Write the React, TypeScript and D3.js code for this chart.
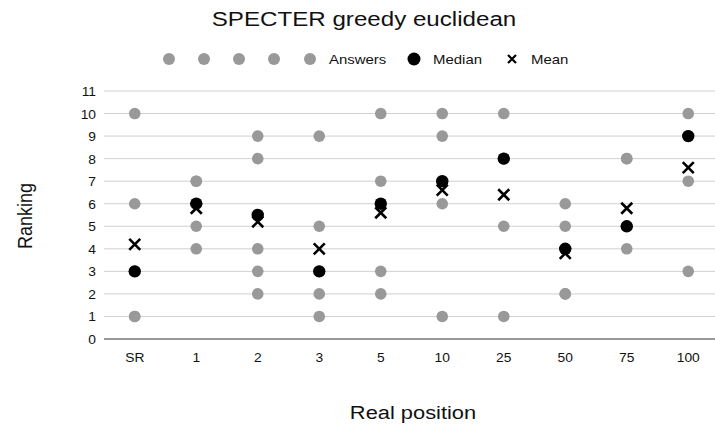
import React from "react";
import * as d3 from "d3";

const categories = ["SR", "1", "2", "3", "5", "10", "25", "50", "75", "100"];
const answers1 = [1, 4, 2, 1, 2, 1, 1, 2, 4, 3];
const answers2 = [1, 5, 3, 2, 3, 6, 5, 2, 5, 7];
const answers3 = [3, 6, 4, 3, 6, 7, 8, 4, 5, 9];
const answers4 = [6, 7, 8, 5, 7, 9, 8, 5, 8, 9];
const answers5 = [10, 7, 9, 9, 10, 10, 10, 6, 8, 10];
const medians = [3, 6, 5.5, 3, 6, 7, 8, 4, 5, 9];
const means = [4.2, 5.8, 5.2, 4.0, 5.6, 6.6, 6.4, 3.8, 5.8, 7.6];
const yTicks = [0, 1, 2, 3, 4, 5, 6, 7, 8, 9, 10, 11];
const answerSeries = [answers1, answers2, answers3, answers4, answers5];

const W = 715, H = 430;
const FONT = "'Liberation Sans', Arial, sans-serif";
const SX = 1.15;
const INK = "#111";

function T(props: { x: number; y: number; size: number; anchor?: string; children: React.ReactNode; sx?: number }) {
  const { x, y, size, anchor = "start", children, sx = SX } = props;
  return (
    <text transform={`translate(${x},${y}) scale(${sx},1)`} textAnchor={anchor as any} fontSize={size} fill={INK}>
      {children}
    </text>
  );
}

export default function App() {
  const x = d3.scaleBand<string>().domain(categories).range([104, 719]);
  const y = d3.scaleLinear().domain([0, 11]).range([339, 91]);
  const cx = (c: string) => (x(c) as number) + x.bandwidth() / 2;
  const grey = "#999999";
  const xs = (px: number, py: number, s: number) =>
    `M${px - s},${py - s}L${px + s},${py + s}M${px - s},${py + s}L${px + s},${py - s}`;

  return (
    <svg width={W} height={H} style={{ position: "absolute", left: 0, top: 0, background: "#fff" }} fontFamily={FONT}>
      <rect width={W} height={H} fill="#fff" />
      <T x={364} y={26} size={21} anchor="middle">SPECTER greedy euclidean</T>

      {/* legend */}
      {[169, 204, 239, 274, 310].map((lx, i) => (
        <circle key={i} cx={lx} cy={59} r={6} fill={grey} />
      ))}
      <T x={329} y={64} size={13}>Answers</T>
      <circle cx={414} cy={59} r={6.5} fill="#000" />
      <T x={433} y={64} size={13}>Median</T>
      <path d={xs(512, 59, 4)} stroke="#000" strokeWidth={2.2} />
      <T x={531} y={64} size={13}>Mean</T>

      {/* grid */}
      {yTicks.map((t) => (
        <g key={t}>
          {t > 0 && <line x1={104} x2={W} y1={y(t)} y2={y(t)} stroke="#d0d0d0" strokeWidth={1} />}
          <T x={96} y={y(t) + 5} size={12} anchor="end">{t}</T>
        </g>
      ))}
      <line x1={104} x2={W} y1={y(0)} y2={y(0)} stroke="#333" strokeWidth={1} />
      {categories.map((c) => (
        <T key={c} x={cx(c)} y={362} size={12} anchor="middle">{c}</T>
      ))}

      {/* answers */}
      {answerSeries.map((s, si) =>
        s.map((v, i) => <circle key={`${si}-${i}`} cx={cx(categories[i])} cy={y(v)} r={5.8} fill={grey} />)
      )}
      {medians.map((v, i) => (
        <circle key={`m${i}`} cx={cx(categories[i])} cy={y(v)} r={6.2} fill="#000" />
      ))}
      {means.map((v, i) => (
        <path key={`a${i}`} d={xs(cx(categories[i]), y(v), 5.5)} stroke="#000" strokeWidth={2.6} />
      ))}

      <text transform={`translate(32,216) rotate(-90) scale(1,${SX})`} textAnchor="middle" fontSize={18} fill={INK}>Ranking</text>
      <T x={413} y={419} size={19} anchor="middle">Real position</T>
    </svg>
  );
}
